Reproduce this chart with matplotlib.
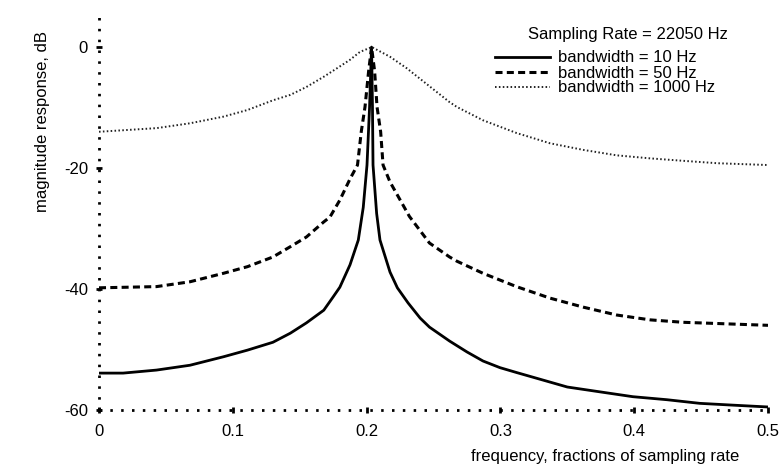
import matplotlib
matplotlib.use("Agg")
import matplotlib.pyplot as plt

plt.rcParams['font.family'] = ['Liberation Sans', 'DejaVu Sans']
plt.rcParams['axes.unicode_minus'] = False

# ---- data ----
freq_10 = [0.000, 0.018, 0.043, 0.068, 0.093, 0.111, 0.130, 0.143, 0.155, 0.168,
           0.175, 0.180, 0.1876, 0.1938, 0.1975, 0.2003, 0.2022, 0.2037, 0.2044,
           0.2048, 0.2075, 0.2100, 0.2175, 0.2230, 0.2310, 0.2400, 0.2470, 0.2620,
           0.2750, 0.2870, 0.2997, 0.3120, 0.3310, 0.3500, 0.3744, 0.3990, 0.4245,
           0.4490, 0.4740, 0.5000]
db_10 = [-53.9, -53.9, -53.4, -52.6, -51.2, -50.1, -48.8, -47.3, -45.6, -43.5,
         -41.3, -39.7, -36.0, -31.9, -26.5, -19.5, -10.0, 0.0, -10.0,
         -19.5, -27.5, -31.9, -37.2, -39.8, -42.3, -44.8, -46.3, -48.6,
         -50.4, -51.9, -53.0, -53.8, -55.0, -56.2, -57.0, -57.8, -58.3,
         -58.9, -59.2, -59.5]

freq_50 = [0.000, 0.043, 0.068, 0.093, 0.111, 0.130, 0.143, 0.155, 0.168, 0.1726,
           0.180, 0.1876, 0.1932, 0.1960, 0.1988, 0.2015, 0.2037, 0.2060, 0.2078,
           0.2105, 0.2123, 0.2175, 0.2320, 0.2470, 0.2620, 0.2675, 0.2870, 0.3120,
           0.3370, 0.3620, 0.3870, 0.4120, 0.4365, 0.4620, 0.5000]
db_50 = [-39.8, -39.6, -38.8, -37.4, -36.3, -34.7, -33.0, -31.4, -28.9, -28.1,
         -25.3, -21.8, -19.5, -14.0, -9.9, -4.0, 0.0, -4.0, -9.9,
         -14.0, -19.5, -22.3, -28.0, -32.4, -34.7, -35.4, -37.4, -39.6,
         -41.5, -43.0, -44.3, -45.1, -45.5, -45.7, -46.0]

freq_1000 = [0.000, 0.043, 0.068, 0.093, 0.111, 0.130, 0.143, 0.155, 0.168, 0.180,
             0.1876, 0.195, 0.2039, 0.2175, 0.230, 0.262, 0.2675, 0.287, 0.312,
             0.337, 0.362, 0.387, 0.412, 0.4365, 0.462, 0.500]
db_1000 = [-14.0, -13.4, -12.6, -11.5, -10.4, -8.8, -7.9, -6.6, -4.9, -3.2,
           -2.1, -0.8, 0.0, -1.6, -3.5, -9.1, -9.9, -12.1, -14.2,
           -15.9, -17.0, -17.9, -18.4, -18.8, -19.2, -19.5]

labels = ['bandwidth = 10 Hz', 'bandwidth = 50 Hz', 'bandwidth = 1000 Hz']
legend_title = 'Sampling Rate = 22050 Hz'
x_ticks = [0, 0.1, 0.2, 0.3, 0.4, 0.5]
x_ticklabels = ['0', '0.1', '0.2', '0.3', '0.4', '0.5']
y_ticks = [0, -20, -40, -60]
y_ticklabels = ['0', '-20', '-40', '-60']

FS = 12

# ---- figure ----
fig = plt.figure(figsize=(7.84, 4.68), dpi=100)
ax = fig.add_axes([99/784, 58/468, 669/784, 398/468])

ax.plot(freq_10, db_10, color='black', lw=2.0, ls='-', label=labels[0])
ax.plot(freq_50, db_50, color='black', lw=2.2, ls=(0, (2.3, 1.4)), label=labels[1])
ax.plot(freq_1000, db_1000, color='#222222', lw=1.4, ls=(0, (0.8, 1.2)), label=labels[2])

ax.set_xlim(0, 0.5)
ax.set_ylim(-60, 5.8)

for s in ['top', 'right']:
    ax.spines[s].set_visible(False)
for s in ['left', 'bottom']:
    ax.spines[s].set_linestyle((0, (0.9, 3.0)))
    ax.spines[s].set_linewidth(2.0)
    ax.spines[s].set_capstyle('butt')

ax.set_xticks(x_ticks)
ax.set_xticklabels(x_ticklabels)
ax.set_yticks(y_ticks)
ax.set_yticklabels(y_ticklabels)
ax.tick_params(axis='both', direction='inout', length=4, width=2, labelsize=FS,
               colors='black')
ax.tick_params(axis='x', pad=8)
ax.tick_params(axis='y', pad=6)

ax.set_xlabel('frequency, fractions of sampling rate', fontsize=FS, va='center')
ax.xaxis.set_label_coords(0.756, -0.118)
ax.set_ylabel('magnitude response, dB', fontsize=FS, va='center')
ax.yaxis.set_label_coords(-0.084, 0.724)

fig.text(628/784, 1 - 35/468, legend_title, fontsize=FS, ha='center', va='center')
leg = ax.legend(loc='center left', frameon=False, fontsize=FS,
                handlelength=3.3, handletextpad=0.5, labelspacing=0.0,
                borderpad=0.0, borderaxespad=0.0,
                bbox_to_anchor=(495/784, 1 - 73/468),
                bbox_transform=fig.transFigure)

fig.savefig('out.png', dpi=100, facecolor='white')
